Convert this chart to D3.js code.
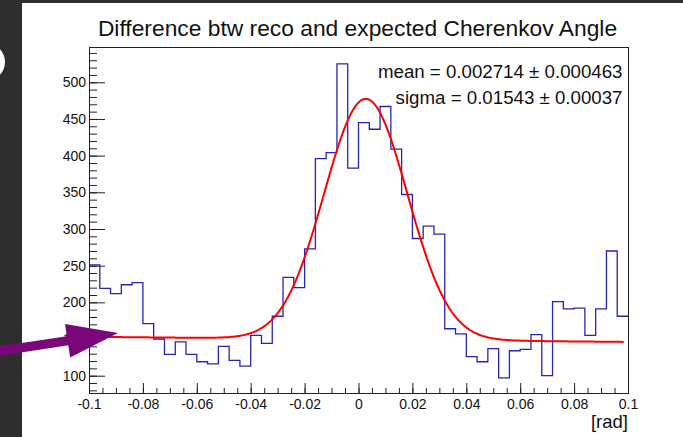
<!DOCTYPE html>
<html>
<head>
<meta charset="utf-8">
<script src="https://cdn.jsdelivr.net/npm/d3@7"></script>
<style>
body { margin: 0; background: #fff; }
svg { display: block; font-family: "Liberation Sans", Arial, Helvetica, sans-serif; }
</style>
</head>
<body>
<script>
// histogram contents, 50 bins between -0.1 and 0.1
const counts = [251, 219, 212, 224, 227, 171, 150, 129, 146, 129,
	119, 116, 140, 121, 113, 155, 144, 181, 234, 220,
	273, 396, 404, 525, 383, 445, 436, 467, 409, 347,
	287, 304, 293, 164, 157, 126, 119, 137, 97, 134,
	136, 156, 100, 201, 191, 192, 155, 191, 270, 181]
const xRange = [-0.1, 0.1]
const xTickValues = [-0.1, -0.08, -0.06, -0.04, -0.02, 0, 0.02, 0.04, 0.06, 0.08, 0.1]
const xTickLabels = ['-0.1', '-0.08', '-0.06', '-0.04', '-0.02', '0', '0.02', '0.04', '0.06', '0.08', '0.1']
const yTickValues = [100, 150, 200, 250, 300, 350, 400, 450, 500]
const yRange = [76.4, 548.1]

// gaussian + linear background fit
const fitMean = 0.002714
const fitSigma = 0.01543
const fitAmp = 328
const fitBg = [149.5, -35]
const fitRange = [-0.1, 0.0984]

const title = 'Difference btw reco and expected Cherenkov Angle'
const statLines = ['mean = 0.002714 ± 0.000463', 'sigma = 0.01543 ± 0.00037']
const xTitle = '[rad]'

const W = 683, H = 437
const frame = { left: 89, right: 628, top: 47, bottom: 393 }

const svg = d3.select('body').append('svg')
	.attr('width', W)
	.attr('height', H)

// screenshot surroundings
svg.append('rect').attr('width', W).attr('height', H).attr('fill', '#fff')
svg.append('rect').attr('width', 22).attr('height', H).attr('fill', '#2e2e2e')
svg.append('rect').attr('width', W).attr('height', 3).attr('fill', '#2e2e2e')
svg.append('circle').attr('cx', -14).attr('cy', 62).attr('r', 19).attr('fill', '#fff')

const x = d3.scaleLinear()
	.domain(xRange)
	.range([frame.left, frame.right])

const y = d3.scaleLinear()
	.domain(yRange)
	.range([frame.bottom, frame.top])

const binWidth = (xRange[1] - xRange[0]) / counts.length
const steps = counts.map((c, i) => [xRange[0] + i * binWidth, c])
steps.push([xRange[1], counts[counts.length - 1]])

// minor ticks
const xMinor = d3.range(0, 41).map(i => xRange[0] + i * 0.005)
const yMinor = d3.range(8, 55).map(i => i * 10)

const axisColor = '#222'

svg.append('g')
		.attr('transform', `translate(0,${frame.bottom})`)
		.attr('color', axisColor)
		.call(d3.axisBottom(x).tickValues(xMinor).tickFormat('').tickSize(-5).tickSizeOuter(0))
	.select('.domain').remove()

const gx = svg.append('g')
		.attr('transform', `translate(0,${frame.bottom})`)
		.attr('color', axisColor)
		.call(d3.axisBottom(x)
			.tickValues(xTickValues)
			.tickFormat((d, i) => xTickLabels[i])
			.tickSize(-10)
			.tickSizeOuter(0)
			.tickPadding(6))
gx.select('.domain').remove()
gx.selectAll('text').attr('font-size', 14).attr('font-family', null).attr('fill', '#111')

svg.append('g')
		.attr('transform', `translate(${frame.left},0)`)
		.attr('color', axisColor)
		.call(d3.axisLeft(y).tickValues(yMinor).tickFormat('').tickSize(-8).tickSizeOuter(0))
	.select('.domain').remove()

const gy = svg.append('g')
		.attr('transform', `translate(${frame.left},0)`)
		.attr('color', axisColor)
		.call(d3.axisLeft(y)
			.tickValues(yTickValues)
			.tickSize(-16)
			.tickSizeOuter(0)
			.tickPadding(3))
gy.select('.domain').remove()
gy.selectAll('text').attr('font-size', 14).attr('font-family', null).attr('fill', '#111')

// histogram outline
svg.append('path')
		.datum(steps)
		.attr('fill', 'none')
		.attr('stroke', '#2626b0')
		.attr('stroke-width', 1.3)
		.attr('d', d3.line().curve(d3.curveStepAfter).x(d => x(d[0])).y(d => y(d[1])))

// fit curve
const fit = v => fitAmp * Math.exp(-0.5 * ((v - fitMean) / fitSigma) ** 2) + fitBg[0] + fitBg[1] * v
const fitPts = d3.range(0, 301).map(i => fitRange[0] + i * (fitRange[1] - fitRange[0]) / 300)

svg.append('path')
		.datum(fitPts)
		.attr('fill', 'none')
		.attr('stroke', '#ff0000')
		.attr('stroke-width', 2)
		.attr('d', d3.line().x(d => x(d)).y(d => y(fit(d))))

// frame
svg.append('rect')
		.attr('x', frame.left + 0.5)
		.attr('y', frame.top + 0.5)
		.attr('width', frame.right - frame.left)
		.attr('height', frame.bottom - frame.top)
		.attr('fill', 'none')
		.attr('stroke', axisColor)

svg.append('text')
		.attr('x', 357.5)
		.attr('y', 36)
		.attr('text-anchor', 'middle')
		.attr('font-size', 22.8)
		.attr('fill', '#111')
		.text(title)

svg.selectAll('.stat')
		.data(statLines)
	.enter().append('text')
		.attr('class', 'stat')
		.attr('x', 622.5)
		.attr('y', (d, i) => 77.7 + i * 26.6)
		.attr('text-anchor', 'end')
		.attr('font-size', 18.7)
		.attr('fill', '#111')
		.text(d => d)

svg.append('text')
		.attr('x', frame.right)
		.attr('y', 427.5)
		.attr('text-anchor', 'end')
		.attr('font-size', 18.5)
		.attr('fill', '#111')
		.text(xTitle)

// purple annotation arrow
const tip = [118, 333], tail = [-10, 352.5]
const len = Math.hypot(tip[0] - tail[0], tip[1] - tail[1])
const u = [(tip[0] - tail[0]) / len, (tip[1] - tail[1]) / len]
const n = [-u[1], u[0]]
const headLen = 51, headHalf = 17, shaftHalf = 4.6
const base = [tip[0] - u[0] * headLen, tip[1] - u[1] * headLen]
const off = (p, k) => [p[0] + n[0] * k, p[1] + n[1] * k]
const arrow = [off(tail, shaftHalf), off(base, shaftHalf), off(base, headHalf), tip,
	off(base, -headHalf), off(base, -shaftHalf), off(tail, -shaftHalf)]

svg.append('path')
		.attr('d', d3.line()(arrow) + 'Z')
		.attr('fill', '#7a067a')
</script>
</body>
</html>
